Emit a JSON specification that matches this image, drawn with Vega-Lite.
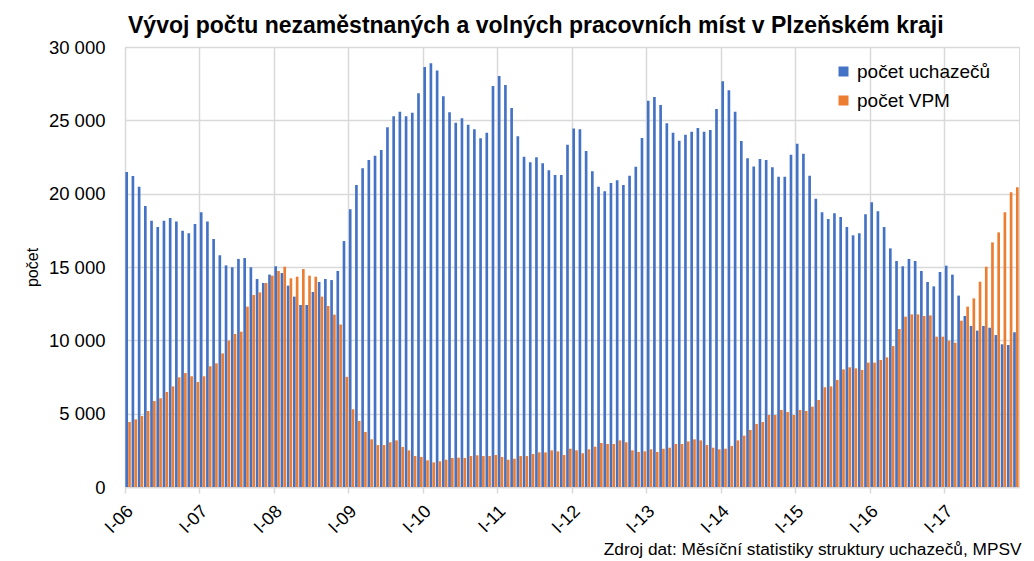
{
"$schema": "https://vega.github.io/schema/vega-lite/v6.json",
"width": 894, "height": 440,
"autosize": {"type": "none"},
"padding": {"left": 125, "top": 47, "right": 15, "bottom": 74},
"background": "white",
"config": {"view": {"stroke": "#d9d9d9", "strokeWidth": 1}, "font": "Liberation Sans"},
"title": {"text": "Vývoj počtu nezaměstnaných a volných pracovních míst v Plzeňském kraji", "anchor": "start", "frame": "group", "baseline": "alphabetic", "fontSize": 23, "fontWeight": "bold", "font": "Liberation Sans", "color": "#000000", "offset": 6, "dx": 3, "dy": 24},
"data": {"values": [
{"m":"I-06","s":"počet uchazečů","v":21480},{"m":"II-06","s":"počet uchazečů","v":21200},{"m":"III-06","s":"počet uchazečů","v":20480},{"m":"IV-06","s":"počet uchazečů","v":19160},{"m":"V-06","s":"počet uchazečů","v":18160},{"m":"VI-06","s":"počet uchazečů","v":17730},{"m":"VII-06","s":"počet uchazečů","v":18160},{"m":"VIII-06","s":"počet uchazečů","v":18340},{"m":"IX-06","s":"počet uchazečů","v":18110},{"m":"X-06","s":"počet uchazečů","v":17480},{"m":"XI-06","s":"počet uchazečů","v":17300},{"m":"XII-06","s":"počet uchazečů","v":17930},
{"m":"I-07","s":"počet uchazečů","v":18730},{"m":"II-07","s":"počet uchazečů","v":18110},{"m":"III-07","s":"počet uchazečů","v":16910},{"m":"IV-07","s":"počet uchazečů","v":15800},{"m":"V-07","s":"počet uchazečů","v":15110},{"m":"VI-07","s":"počet uchazečů","v":14980},{"m":"VII-07","s":"počet uchazečů","v":15550},{"m":"VIII-07","s":"počet uchazečů","v":15610},{"m":"IX-07","s":"počet uchazečů","v":14980},{"m":"X-07","s":"počet uchazečů","v":14180},{"m":"XI-07","s":"počet uchazečů","v":13910},{"m":"XII-07","s":"počet uchazečů","v":14480},
{"m":"I-08","s":"počet uchazečů","v":15050},{"m":"II-08","s":"počet uchazečů","v":14590},{"m":"III-08","s":"počet uchazečů","v":13730},{"m":"IV-08","s":"počet uchazečů","v":12980},{"m":"V-08","s":"počet uchazečů","v":12410},{"m":"VI-08","s":"počet uchazečů","v":12410},{"m":"VII-08","s":"počet uchazečů","v":13300},{"m":"VIII-08","s":"počet uchazečů","v":13980},{"m":"IX-08","s":"počet uchazečů","v":14180},{"m":"X-08","s":"počet uchazečů","v":14110},{"m":"XI-08","s":"počet uchazečů","v":14730},{"m":"XII-08","s":"počet uchazečů","v":16770},
{"m":"I-09","s":"počet uchazečů","v":18940},{"m":"II-09","s":"počet uchazečů","v":20590},{"m":"III-09","s":"počet uchazečů","v":21730},{"m":"IV-09","s":"počet uchazečů","v":22300},{"m":"V-09","s":"počet uchazečů","v":22590},{"m":"VI-09","s":"počet uchazečů","v":22980},{"m":"VII-09","s":"počet uchazečů","v":24520},{"m":"VIII-09","s":"počet uchazečů","v":25270},{"m":"IX-09","s":"počet uchazečů","v":25590},{"m":"X-09","s":"počet uchazečů","v":25270},{"m":"XI-09","s":"počet uchazečů","v":25520},{"m":"XII-09","s":"počet uchazečů","v":26840},
{"m":"I-10","s":"počet uchazečů","v":28640},{"m":"II-10","s":"počet uchazečů","v":28890},{"m":"III-10","s":"počet uchazečů","v":28390},{"m":"IV-10","s":"počet uchazečů","v":26640},{"m":"V-10","s":"počet uchazečů","v":25550},{"m":"VI-10","s":"počet uchazečů","v":24840},{"m":"VII-10","s":"počet uchazečů","v":25140},{"m":"VIII-10","s":"počet uchazečů","v":24700},{"m":"IX-10","s":"počet uchazečů","v":24390},{"m":"X-10","s":"počet uchazečů","v":23770},{"m":"XI-10","s":"počet uchazečů","v":24160},{"m":"XII-10","s":"počet uchazečů","v":27340},
{"m":"I-11","s":"počet uchazečů","v":28020},{"m":"II-11","s":"počet uchazečů","v":27410},{"m":"III-11","s":"počet uchazečů","v":25840},{"m":"IV-11","s":"počet uchazečů","v":23910},{"m":"V-11","s":"počet uchazečů","v":22520},{"m":"VI-11","s":"počet uchazečů","v":22140},{"m":"VII-11","s":"počet uchazečů","v":22480},{"m":"VIII-11","s":"počet uchazečů","v":22070},{"m":"IX-11","s":"počet uchazečů","v":21590},{"m":"X-11","s":"počet uchazečů","v":21270},{"m":"XI-11","s":"počet uchazečů","v":21270},{"m":"XII-11","s":"počet uchazečů","v":23340},
{"m":"I-12","s":"počet uchazečů","v":24450},{"m":"II-12","s":"počet uchazečů","v":24390},{"m":"III-12","s":"počet uchazečů","v":22910},{"m":"IV-12","s":"počet uchazečů","v":21520},{"m":"V-12","s":"počet uchazečů","v":20480},{"m":"VI-12","s":"počet uchazečů","v":20160},{"m":"VII-12","s":"počet uchazečů","v":20730},{"m":"VIII-12","s":"počet uchazečů","v":20910},{"m":"IX-12","s":"počet uchazečů","v":20590},{"m":"X-12","s":"počet uchazečů","v":21230},{"m":"XI-12","s":"počet uchazečů","v":21840},{"m":"XII-12","s":"počet uchazečů","v":23800},
{"m":"I-13","s":"počet uchazečů","v":26340},{"m":"II-13","s":"počet uchazečů","v":26590},{"m":"III-13","s":"počet uchazečů","v":26050},{"m":"IV-13","s":"počet uchazečů","v":24800},{"m":"V-13","s":"počet uchazečů","v":24160},{"m":"VI-13","s":"počet uchazečů","v":23610},{"m":"VII-13","s":"počet uchazečů","v":24020},{"m":"VIII-13","s":"počet uchazečů","v":24230},{"m":"IX-13","s":"počet uchazečů","v":24480},{"m":"X-13","s":"počet uchazečů","v":24230},{"m":"XI-13","s":"počet uchazečů","v":24340},{"m":"XII-13","s":"počet uchazečů","v":25770},
{"m":"I-14","s":"počet uchazečů","v":27660},{"m":"II-14","s":"počet uchazečů","v":27050},{"m":"III-14","s":"počet uchazečů","v":25590},{"m":"IV-14","s":"počet uchazečů","v":23590},{"m":"V-14","s":"počet uchazečů","v":22410},{"m":"VI-14","s":"počet uchazečů","v":21860},{"m":"VII-14","s":"počet uchazečů","v":22360},{"m":"VIII-14","s":"počet uchazečů","v":22300},{"m":"IX-14","s":"počet uchazečů","v":21800},{"m":"X-14","s":"počet uchazečů","v":21160},{"m":"XI-14","s":"počet uchazečů","v":21160},{"m":"XII-14","s":"počet uchazečů","v":22660},
{"m":"I-15","s":"počet uchazečů","v":23400},{"m":"II-15","s":"počet uchazečů","v":22730},{"m":"III-15","s":"počet uchazečů","v":21230},{"m":"IV-15","s":"počet uchazečů","v":19660},{"m":"V-15","s":"počet uchazečů","v":18730},{"m":"VI-15","s":"počet uchazečů","v":18270},{"m":"VII-15","s":"počet uchazečů","v":18660},{"m":"VIII-15","s":"počet uchazečů","v":18410},{"m":"IX-15","s":"počet uchazečů","v":17730},{"m":"X-15","s":"počet uchazečů","v":17160},{"m":"XI-15","s":"počet uchazečů","v":17300},{"m":"XII-15","s":"počet uchazečů","v":18590},
{"m":"I-16","s":"počet uchazečů","v":19410},{"m":"II-16","s":"počet uchazečů","v":18800},{"m":"III-16","s":"počet uchazečů","v":17730},{"m":"IV-16","s":"počet uchazečů","v":16270},{"m":"V-16","s":"počet uchazečů","v":15410},{"m":"VI-16","s":"počet uchazečů","v":15050},{"m":"VII-16","s":"počet uchazečů","v":15550},{"m":"VIII-16","s":"počet uchazečů","v":15410},{"m":"IX-16","s":"počet uchazečů","v":14730},{"m":"X-16","s":"počet uchazečů","v":13980},{"m":"XI-16","s":"počet uchazečů","v":13680},{"m":"XII-16","s":"počet uchazečů","v":14660},
{"m":"I-17","s":"počet uchazečů","v":15090},{"m":"II-17","s":"počet uchazečů","v":14480},{"m":"III-17","s":"počet uchazečů","v":13050},{"m":"IV-17","s":"počet uchazečů","v":11660},{"m":"V-17","s":"počet uchazečů","v":10980},{"m":"VI-17","s":"počet uchazečů","v":10660},{"m":"VII-17","s":"počet uchazečů","v":10980},{"m":"VIII-17","s":"počet uchazečů","v":10860},{"m":"IX-17","s":"počet uchazečů","v":10360},{"m":"X-17","s":"počet uchazečů","v":9730},{"m":"XI-17","s":"počet uchazečů","v":9680},{"m":"XII-17","s":"počet uchazečů","v":10550},
{"m":"I-06","s":"počet VPM","v":4430},{"m":"II-06","s":"počet VPM","v":4610},{"m":"III-06","s":"počet VPM","v":4840},{"m":"IV-06","s":"počet VPM","v":5180},{"m":"V-06","s":"počet VPM","v":5860},{"m":"VI-06","s":"počet VPM","v":6050},{"m":"VII-06","s":"počet VPM","v":6480},{"m":"VIII-06","s":"počet VPM","v":6860},{"m":"IX-06","s":"počet VPM","v":7480},{"m":"X-06","s":"počet VPM","v":7770},{"m":"XI-06","s":"počet VPM","v":7550},{"m":"XII-06","s":"počet VPM","v":7160},
{"m":"I-07","s":"počet VPM","v":7550},{"m":"II-07","s":"počet VPM","v":8230},{"m":"III-07","s":"počet VPM","v":8430},{"m":"IV-07","s":"počet VPM","v":9110},{"m":"V-07","s":"počet VPM","v":9980},{"m":"VI-07","s":"počet VPM","v":10430},{"m":"VII-07","s":"počet VPM","v":10590},{"m":"VIII-07","s":"počet VPM","v":12300},{"m":"IX-07","s":"počet VPM","v":13090},{"m":"X-07","s":"počet VPM","v":13270},{"m":"XI-07","s":"počet VPM","v":13910},{"m":"XII-07","s":"počet VPM","v":14410},
{"m":"I-08","s":"počet VPM","v":14730},{"m":"II-08","s":"počet VPM","v":15020},{"m":"III-08","s":"počet VPM","v":14230},{"m":"IV-08","s":"počet VPM","v":14340},{"m":"V-08","s":"počet VPM","v":14860},{"m":"VI-08","s":"počet VPM","v":14410},{"m":"VII-08","s":"počet VPM","v":14340},{"m":"VIII-08","s":"počet VPM","v":12980},{"m":"IX-08","s":"počet VPM","v":12340},{"m":"X-08","s":"počet VPM","v":11750},{"m":"XI-08","s":"počet VPM","v":11080},{"m":"XII-08","s":"počet VPM","v":7510},
{"m":"I-09","s":"počet VPM","v":5300},{"m":"II-09","s":"počet VPM","v":4500},{"m":"III-09","s":"počet VPM","v":3750},{"m":"IV-09","s":"počet VPM","v":3250},{"m":"V-09","s":"počet VPM","v":2860},{"m":"VI-09","s":"počet VPM","v":2860},{"m":"VII-09","s":"počet VPM","v":3050},{"m":"VIII-09","s":"počet VPM","v":3180},{"m":"IX-09","s":"počet VPM","v":2730},{"m":"X-09","s":"počet VPM","v":2500},{"m":"XI-09","s":"počet VPM","v":2110},{"m":"XII-09","s":"počet VPM","v":2050},
{"m":"I-10","s":"počet VPM","v":1820},{"m":"II-10","s":"počet VPM","v":1680},{"m":"III-10","s":"počet VPM","v":1750},{"m":"IV-10","s":"počet VPM","v":1860},{"m":"V-10","s":"počet VPM","v":1980},{"m":"VI-10","s":"počet VPM","v":2000},{"m":"VII-10","s":"počet VPM","v":1980},{"m":"VIII-10","s":"počet VPM","v":2110},{"m":"IX-10","s":"počet VPM","v":2160},{"m":"X-10","s":"počet VPM","v":2110},{"m":"XI-10","s":"počet VPM","v":2110},{"m":"XII-10","s":"počet VPM","v":2180},
{"m":"I-11","s":"počet VPM","v":2050},{"m":"II-11","s":"počet VPM","v":1860},{"m":"III-11","s":"počet VPM","v":1930},{"m":"IV-11","s":"počet VPM","v":2110},{"m":"V-11","s":"počet VPM","v":2110},{"m":"VI-11","s":"počet VPM","v":2250},{"m":"VII-11","s":"počet VPM","v":2360},{"m":"VIII-11","s":"počet VPM","v":2360},{"m":"IX-11","s":"počet VPM","v":2500},{"m":"X-11","s":"počet VPM","v":2430},{"m":"XI-11","s":"počet VPM","v":2180},{"m":"XII-11","s":"počet VPM","v":2610},
{"m":"I-12","s":"počet VPM","v":2500},{"m":"II-12","s":"počet VPM","v":2300},{"m":"III-12","s":"počet VPM","v":2570},{"m":"IV-12","s":"počet VPM","v":2750},{"m":"V-12","s":"počet VPM","v":3000},{"m":"VI-12","s":"počet VPM","v":2930},{"m":"VII-12","s":"počet VPM","v":2930},{"m":"VIII-12","s":"počet VPM","v":3180},{"m":"IX-12","s":"počet VPM","v":3050},{"m":"X-12","s":"počet VPM","v":2500},{"m":"XI-12","s":"počet VPM","v":2390},{"m":"XII-12","s":"počet VPM","v":2430},
{"m":"I-13","s":"počet VPM","v":2570},{"m":"II-13","s":"počet VPM","v":2390},{"m":"III-13","s":"počet VPM","v":2610},{"m":"IV-13","s":"počet VPM","v":2680},{"m":"V-13","s":"počet VPM","v":2930},{"m":"VI-13","s":"počet VPM","v":2930},{"m":"VII-13","s":"počet VPM","v":3110},{"m":"VIII-13","s":"počet VPM","v":3250},{"m":"IX-13","s":"počet VPM","v":3180},{"m":"X-13","s":"počet VPM","v":2860},{"m":"XI-13","s":"počet VPM","v":2680},{"m":"XII-13","s":"počet VPM","v":2570},
{"m":"I-14","s":"počet VPM","v":2610},{"m":"II-14","s":"počet VPM","v":2800},{"m":"III-14","s":"počet VPM","v":3180},{"m":"IV-14","s":"počet VPM","v":3500},{"m":"V-14","s":"počet VPM","v":3890},{"m":"VI-14","s":"počet VPM","v":4300},{"m":"VII-14","s":"počet VPM","v":4430},{"m":"VIII-14","s":"počet VPM","v":4910},{"m":"IX-14","s":"počet VPM","v":4910},{"m":"X-14","s":"počet VPM","v":5250},{"m":"XI-14","s":"počet VPM","v":5110},{"m":"XII-14","s":"počet VPM","v":4910},
{"m":"I-15","s":"počet VPM","v":5250},{"m":"II-15","s":"počet VPM","v":5180},{"m":"III-15","s":"počet VPM","v":5480},{"m":"IV-15","s":"počet VPM","v":5930},{"m":"V-15","s":"počet VPM","v":6800},{"m":"VI-15","s":"počet VPM","v":6860},{"m":"VII-15","s":"počet VPM","v":7300},{"m":"VIII-15","s":"počet VPM","v":8020},{"m":"IX-15","s":"počet VPM","v":8160},{"m":"X-15","s":"počet VPM","v":8090},{"m":"XI-15","s":"počet VPM","v":7980},{"m":"XII-15","s":"počet VPM","v":8480},
{"m":"I-16","s":"počet VPM","v":8480},{"m":"II-16","s":"počet VPM","v":8660},{"m":"III-16","s":"počet VPM","v":8840},{"m":"IV-16","s":"počet VPM","v":9610},{"m":"V-16","s":"počet VPM","v":10770},{"m":"VI-16","s":"počet VPM","v":11610},{"m":"VII-16","s":"počet VPM","v":11770},{"m":"VIII-16","s":"počet VPM","v":11770},{"m":"IX-16","s":"počet VPM","v":11660},{"m":"X-16","s":"počet VPM","v":11700},{"m":"XI-16","s":"počet VPM","v":10250},{"m":"XII-16","s":"počet VPM","v":10250},
{"m":"I-17","s":"počet VPM","v":9980},{"m":"II-17","s":"počet VPM","v":9840},{"m":"III-17","s":"počet VPM","v":11340},{"m":"IV-17","s":"počet VPM","v":12300},{"m":"V-17","s":"počet VPM","v":12860},{"m":"VI-17","s":"počet VPM","v":14000},{"m":"VII-17","s":"počet VPM","v":15020},{"m":"VIII-17","s":"počet VPM","v":16680},{"m":"IX-17","s":"počet VPM","v":17360},{"m":"X-17","s":"počet VPM","v":18730},{"m":"XI-17","s":"počet VPM","v":20090},{"m":"XII-17","s":"počet VPM","v":20430}
]},
"mark": {"type": "bar"},
"encoding": {
"x": {"field": "m", "type": "ordinal", "sort": null,
 "scale": {"paddingInner": 0.12, "paddingOuter": 0.06},
 "axis": {"values": ["I-06","I-07","I-08","I-09","I-10","I-11","I-12","I-13","I-14","I-15","I-16","I-17"],
  "bandPosition": 0, "labelAngle": -45, "labelFontSize": 18, "labelColor": "#000000", "labelFont": "Liberation Sans", "labelOffset": -4,
  "grid": true, "gridColor": "#d9d9d9", "gridWidth": 1.5, "domainColor": "#d9d9d9", "domainWidth": 1.5, "tickColor": "#d9d9d9", "tickWidth": 1.5, "tickSize": 6, "labelPadding": 9,
  "title": "Zdroj dat: Měsíční statistiky struktury uchazečů, MPSV", "titleX": 896, "titleY": 67, "titleAlign": "right", "titleBaseline": "alphabetic", "titleFontWeight": "normal", "titleFontSize": 17.3, "titleFont": "Liberation Sans", "titleColor": "#000000"}},
"xOffset": {"field": "s", "type": "nominal", "sort": ["počet uchazečů","počet VPM"], "scale": {"paddingInner": 0.05}},
"y": {"field": "v", "type": "quantitative", "scale": {"domain": [0, 30000]},
 "axis": {"values": [0,5000,10000,15000,20000,25000,30000], "labelExpr": "replace(format(datum.value, ','), ',', ' ')",
  "domain": false, "ticks": false, "labelFontSize": 18.5, "labelColor": "#000000", "labelFont": "Liberation Sans", "labelPadding": 20,
  "gridColor": "#d9d9d9", "gridWidth": 1.5,
  "title": "počet", "titleFontSize": 16, "titleFontWeight": "normal", "titleFont": "Liberation Sans", "titleColor": "#000000", "titlePadding": 8}},
"color": {"field": "s", "type": "nominal",
 "scale": {"domain": ["počet uchazečů","počet VPM"], "range": ["#4472C4","#ED7D31"]},
 "legend": {"title": null, "orient": "none", "legendX": 709, "legendY": 15, "padding": 0, "symbolType": "square", "symbolSize": 100, "symbolStrokeWidth": 0, "labelFontSize": 19, "labelFont": "Liberation Sans", "labelColor": "#000000", "rowPadding": 9, "labelOffset": 4}}
}
}
